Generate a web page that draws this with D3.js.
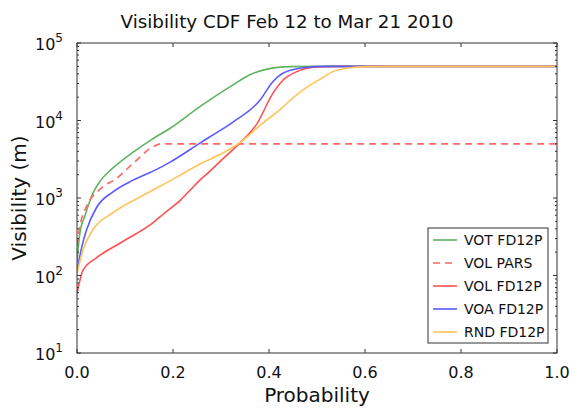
<!DOCTYPE html>
<html><head><meta charset="utf-8">
<script src="https://cdn.jsdelivr.net/npm/d3@7"></script>
<style>body{margin:0;background:#fff;} svg{display:block;font-family:"DejaVu Sans",sans-serif;}</style>
</head><body>
<script>
const xTicks = [0, 0.2, 0.4, 0.6, 0.8, 1.0];
const yTicks = [10, 100, 1000, 10000, 100000];
const seriesNames = ["VOT FD12P", "VOL PARS", "VOL FD12P", "VOA FD12P", "RND FD12P"];
const seriesColors = ["#5fb35f", "#ff6666", "#ff5050", "#5a5aff", "#ffc45a"];
const seriesDash = [null, "7,5", null, null, null];

const votP = [0, 0.006, 0.017, 0.033, 0.048, 0.065, 0.083, 0.117, 0.152, 0.194, 0.256, 0.325, 0.36, 0.396, 0.444, 0.5, 1.0];
const votV = [150, 355, 600, 1150, 1650, 2150, 2690, 3900, 5500, 7940, 15100, 28800, 38900, 46000, 49500, 50000, 50000];

const parsP = [0, 0.006, 0.02, 0.048, 0.083, 0.117, 0.158, 0.175, 1.0];
const parsV = [240, 430, 780, 1300, 1800, 2800, 4570, 5000, 5000];

const volP = [0, 0.0125, 0.041, 0.09, 0.158, 0.183, 0.215, 0.235, 0.256, 0.271, 0.304, 0.339, 0.375, 0.408, 0.429, 0.458, 0.5, 0.55, 1.0];
const volV = [58, 117, 170, 263, 479, 645, 933, 1250, 1700, 2050, 3200, 5100, 9100, 22400, 33100, 42700, 49000, 50000, 50000];

const voaP = [0, 0.01, 0.02, 0.041, 0.075, 0.117, 0.166, 0.193, 0.256, 0.277, 0.325, 0.381, 0.408, 0.429, 0.471, 0.52, 1.0];
const voaV = [115, 234, 389, 760, 1200, 1700, 2340, 2880, 5100, 6170, 9550, 18200, 31600, 40700, 47900, 50000, 50000];

const rndP = [0, 0.0125, 0.033, 0.075, 0.146, 0.208, 0.256, 0.304, 0.339, 0.3875, 0.423, 0.444, 0.479, 0.506, 0.533, 0.569, 0.604, 0.652, 1.0];
const rndV = [105, 214, 389, 646, 1150, 1860, 2750, 3800, 5130, 9330, 13800, 18200, 26900, 33900, 42700, 47900, 49500, 50000, 50000];

const seriesP = [votP, parsP, volP, voaP, rndP];
const seriesV = [votV, parsV, volV, voaV, rndV];

const W = 574, H = 408;
const m = {left: 77, right: 557, top: 43, bottom: 353};
const svg = d3.select("body").append("svg").attr("width", W).attr("height", H);
const x = d3.scaleLinear().domain([0, 1]).range([m.left, m.right]);
const y = d3.scaleLog().domain([10, 100000]).range([m.bottom, m.top]);

svg.append("clipPath").attr("id", "c").append("rect")
  .attr("x", m.left).attr("y", m.top).attr("width", m.right - m.left).attr("height", m.bottom - m.top);

const line = d3.line().x(d => x(d[0])).y(d => y(d[1])).curve(d3.curveMonotoneX);
const g = svg.append("g").attr("clip-path", "url(#c)");
seriesNames.forEach((n, i) => {
  const data = seriesP[i].map((p, j) => [p, seriesV[i][j]]);
  g.append("path").datum(data).attr("d", line).attr("fill", "none")
    .attr("stroke", seriesColors[i]).attr("stroke-width", 1.6)
    .attr("stroke-dasharray", seriesDash[i]);
});

// frame
svg.append("rect").attr("x", m.left).attr("y", m.top).attr("width", m.right - m.left).attr("height", m.bottom - m.top)
  .attr("fill", "none").attr("stroke", "#333").attr("stroke-width", 1);

// ticks
const tg = svg.append("g").attr("stroke", "#333").attr("stroke-width", 1);
xTicks.forEach(t => {
  tg.append("line").attr("x1", x(t)).attr("x2", x(t)).attr("y1", m.bottom).attr("y2", m.bottom - 4);
  tg.append("line").attr("x1", x(t)).attr("x2", x(t)).attr("y1", m.top).attr("y2", m.top + 4);
  svg.append("text").attr("x", x(t)).attr("y", 378).attr("text-anchor", "middle")
    .attr("font-size", 16).attr("fill", "#111").text(t.toFixed(1));
});
const minor = [];
for (let d = 10; d < 100000; d *= 10) for (let k = 2; k <= 9; k++) minor.push(d * k);
minor.forEach(v => {
  tg.append("line").attr("x1", m.left).attr("x2", m.left + 2).attr("y1", y(v)).attr("y2", y(v));
  tg.append("line").attr("x1", m.right).attr("x2", m.right - 2).attr("y1", y(v)).attr("y2", y(v));
});
yTicks.forEach(v => {
  tg.append("line").attr("x1", m.left).attr("x2", m.left + 4).attr("y1", y(v)).attr("y2", y(v));
  tg.append("line").attr("x1", m.right).attr("x2", m.right - 4).attr("y1", y(v)).attr("y2", y(v));
  const e = Math.round(Math.log10(v));
  const t = svg.append("text").attr("x", m.left - 14).attr("y", y(v) + 7).attr("text-anchor", "end")
    .attr("font-size", 16).attr("fill", "#111");
  t.append("tspan").text("10");
  t.append("tspan").attr("dy", -8).attr("font-size", 12).text(e);
});

// title & labels
svg.append("text").attr("x", 287).attr("y", 28).attr("text-anchor", "middle").attr("font-size", 18.3)
  .attr("fill", "#111").text("Visibility CDF Feb 12 to Mar 21 2010");
svg.append("text").attr("x", (m.left + m.right) / 2).attr("y", 402).attr("text-anchor", "middle")
  .attr("font-size", 20).attr("fill", "#111").text("Probability");
svg.append("text").attr("transform", `translate(26,${(m.top + m.bottom) / 2}) rotate(-90)`)
  .attr("text-anchor", "middle").attr("font-size", 20).attr("fill", "#111").text("Visibility (m)");

// legend
const lg = svg.append("g");
lg.append("rect").attr("x", 428).attr("y", 228).attr("width", 120).attr("height", 115)
  .attr("fill", "#fff").attr("stroke", "#333").attr("stroke-width", 1);
seriesNames.forEach((n, i) => {
  const yy = 240 + i * 23;
  lg.append("line").attr("x1", 433).attr("x2", 457).attr("y1", yy).attr("y2", yy)
    .attr("stroke", seriesColors[i]).attr("stroke-width", 1.6).attr("stroke-dasharray", seriesDash[i]);
  lg.append("text").attr("x", 464).attr("y", yy + 5).attr("font-size", 14).attr("fill", "#111").text(n);
});
</script>
</body></html>
